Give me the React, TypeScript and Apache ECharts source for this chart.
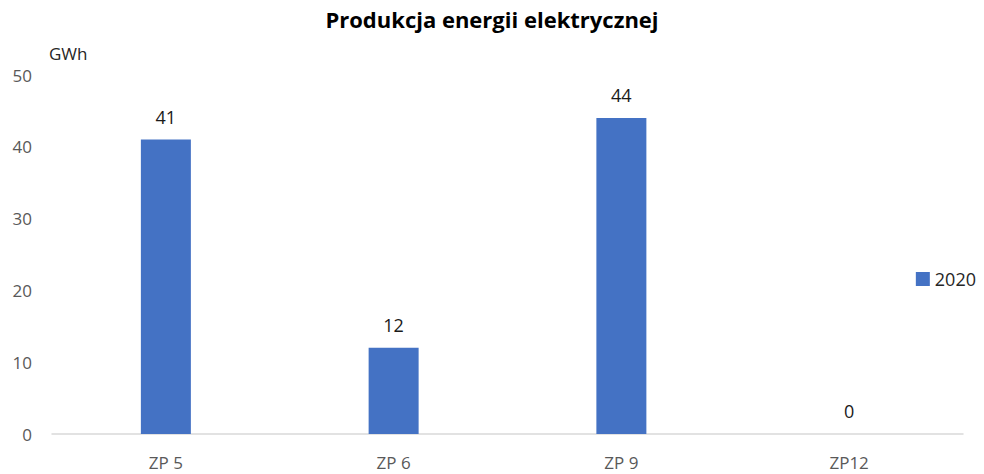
import React, { useEffect, useRef } from "react";
import * as echarts from "echarts";

const categories = ["ZP 5", "ZP 6", "ZP 9", "ZP12"];
const values2020 = [41, 12, 44, 0];
const seriesName = "2020";
const titleText = "Produkcja energii elektrycznej";
const unitLabel = "GWh";

export default function App() {
  const ref = useRef<HTMLDivElement>(null);
  useEffect(() => {
    if (!ref.current) return;
    const chart = echarts.init(ref.current, null, { renderer: "svg" });
    const font = "'Open Sans', 'Noto Sans', sans-serif";
    chart.setOption({
      animation: false,
      backgroundColor: "#ffffff",
      textStyle: { fontFamily: font },
      title: {
        text: titleText,
        left: "center",
        top: 3,
        textStyle: { fontFamily: font, fontSize: 22, fontWeight: "bold", color: "#000000" },
      },
      legend: {
        orient: "vertical",
        right: 3,
        top: 265,
        itemWidth: 14,
        itemHeight: 14,
        itemGap: 8,
        icon: "rect",
        textStyle: { fontFamily: font, fontSize: 18, color: "#262626" },
        data: [seriesName],
      },
      graphic: [
        {
          type: "text",
          left: 49,
          top: 45,
          style: { text: unitLabel, fontFamily: font, fontSize: 17, fill: "#262626" },
        },
      ],
      grid: { left: 52, right: 21, top: 75, bottom: 40, containLabel: false },
      xAxis: {
        type: "category",
        data: categories,
        axisLine: { lineStyle: { color: "#d9d9d9", width: 1.5 } },
        axisTick: { show: false },
        axisLabel: { color: "#595959", fontSize: 17, fontFamily: font, margin: 20 },
      },
      yAxis: {
        type: "value",
        min: 0,
        max: 50,
        interval: 10,
        splitLine: { show: false },
        axisLine: { show: false },
        axisTick: { show: false },
        axisLabel: { color: "#595959", fontSize: 17, fontFamily: font, margin: 20 },
      },
      series: [
        {
          name: seriesName,
          type: "bar",
          data: values2020,
          barWidth: 50,
          itemStyle: { color: "#4472C4" },
          label: {
            show: true,
            position: "top",
            distance: 14,
            color: "#1a1a1a",
            fontSize: 18,
            fontFamily: font,
          },
        },
      ],
    });
    return () => chart.dispose();
  }, []);
  return (
    <div
      ref={ref}
      style={{ position: "fixed", left: 0, top: 0, width: 984, height: 474 }}
    />
  );
}
